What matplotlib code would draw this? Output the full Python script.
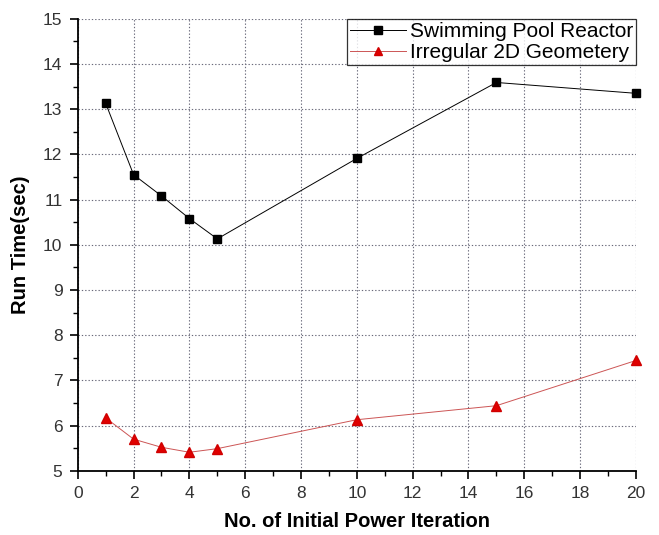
import matplotlib.pyplot as plt
from matplotlib.ticker import MultipleLocator

plt.rcParams['font.family'] = ['Liberation Sans', 'DejaVu Sans']

# data
iterations = [1, 2, 3, 4, 5, 10, 15, 20]
pool_time = [13.13, 11.55, 11.08, 10.58, 10.13, 11.91, 13.59, 13.35]
irregular_time = [6.17, 5.70, 5.52, 5.41, 5.49, 6.13, 6.44, 7.44]

fig = plt.figure(figsize=(6.59, 5.35), dpi=100)
ax = fig.add_axes([0.118, 0.12, 0.847, 0.845])

ax.plot(iterations, pool_time, color='black', lw=0.7, marker='s', ms=6,
        label='Swimming Pool Reactor', clip_on=False, zorder=3)
ax.plot(iterations, irregular_time, color='#cc5555', lw=0.7, marker='^', ms=7.5,
        mfc='#e00000', mec='#d00000', label='Irregular 2D Geometery',
        clip_on=False, zorder=3)

ax.set_xlim(0, 20)
ax.set_ylim(5, 15)
ax.xaxis.set_major_locator(MultipleLocator(2))
ax.xaxis.set_minor_locator(MultipleLocator(1))
ax.yaxis.set_major_locator(MultipleLocator(1))
ax.yaxis.set_minor_locator(MultipleLocator(0.5))

ax.grid(True, which='major', ls=(0, (1.2, 1.8)), color='#6a6a7a', lw=0.8)
for s in ['top', 'right']:
    ax.spines[s].set_visible(False)
for s in ['left', 'bottom']:
    ax.spines[s].set_linewidth(1.3)

ax.tick_params(which='major', direction='out', length=6, width=1.2,
               labelsize=12.5, labelcolor='#333333', pad=5)
ax.tick_params(which='minor', direction='out', length=3.5, width=1.0)

ax.set_xlabel('No. of Initial Power Iteration', fontsize=14.5, fontweight='bold',
              labelpad=8)
ax.set_ylabel('Run Time(sec)', fontsize=14.5, fontweight='bold', labelpad=9)

leg = ax.legend(loc='upper right', bbox_to_anchor=(1.0, 1.0), fontsize=15,
                frameon=True, fancybox=False, edgecolor='black',
                borderaxespad=0, handlelength=2.7, handletextpad=0.15,
                borderpad=0.15, labelspacing=0.1, markerscale=0.85)
leg.get_frame().set_linewidth(0.9)

fig.savefig('out.png', dpi=100)
